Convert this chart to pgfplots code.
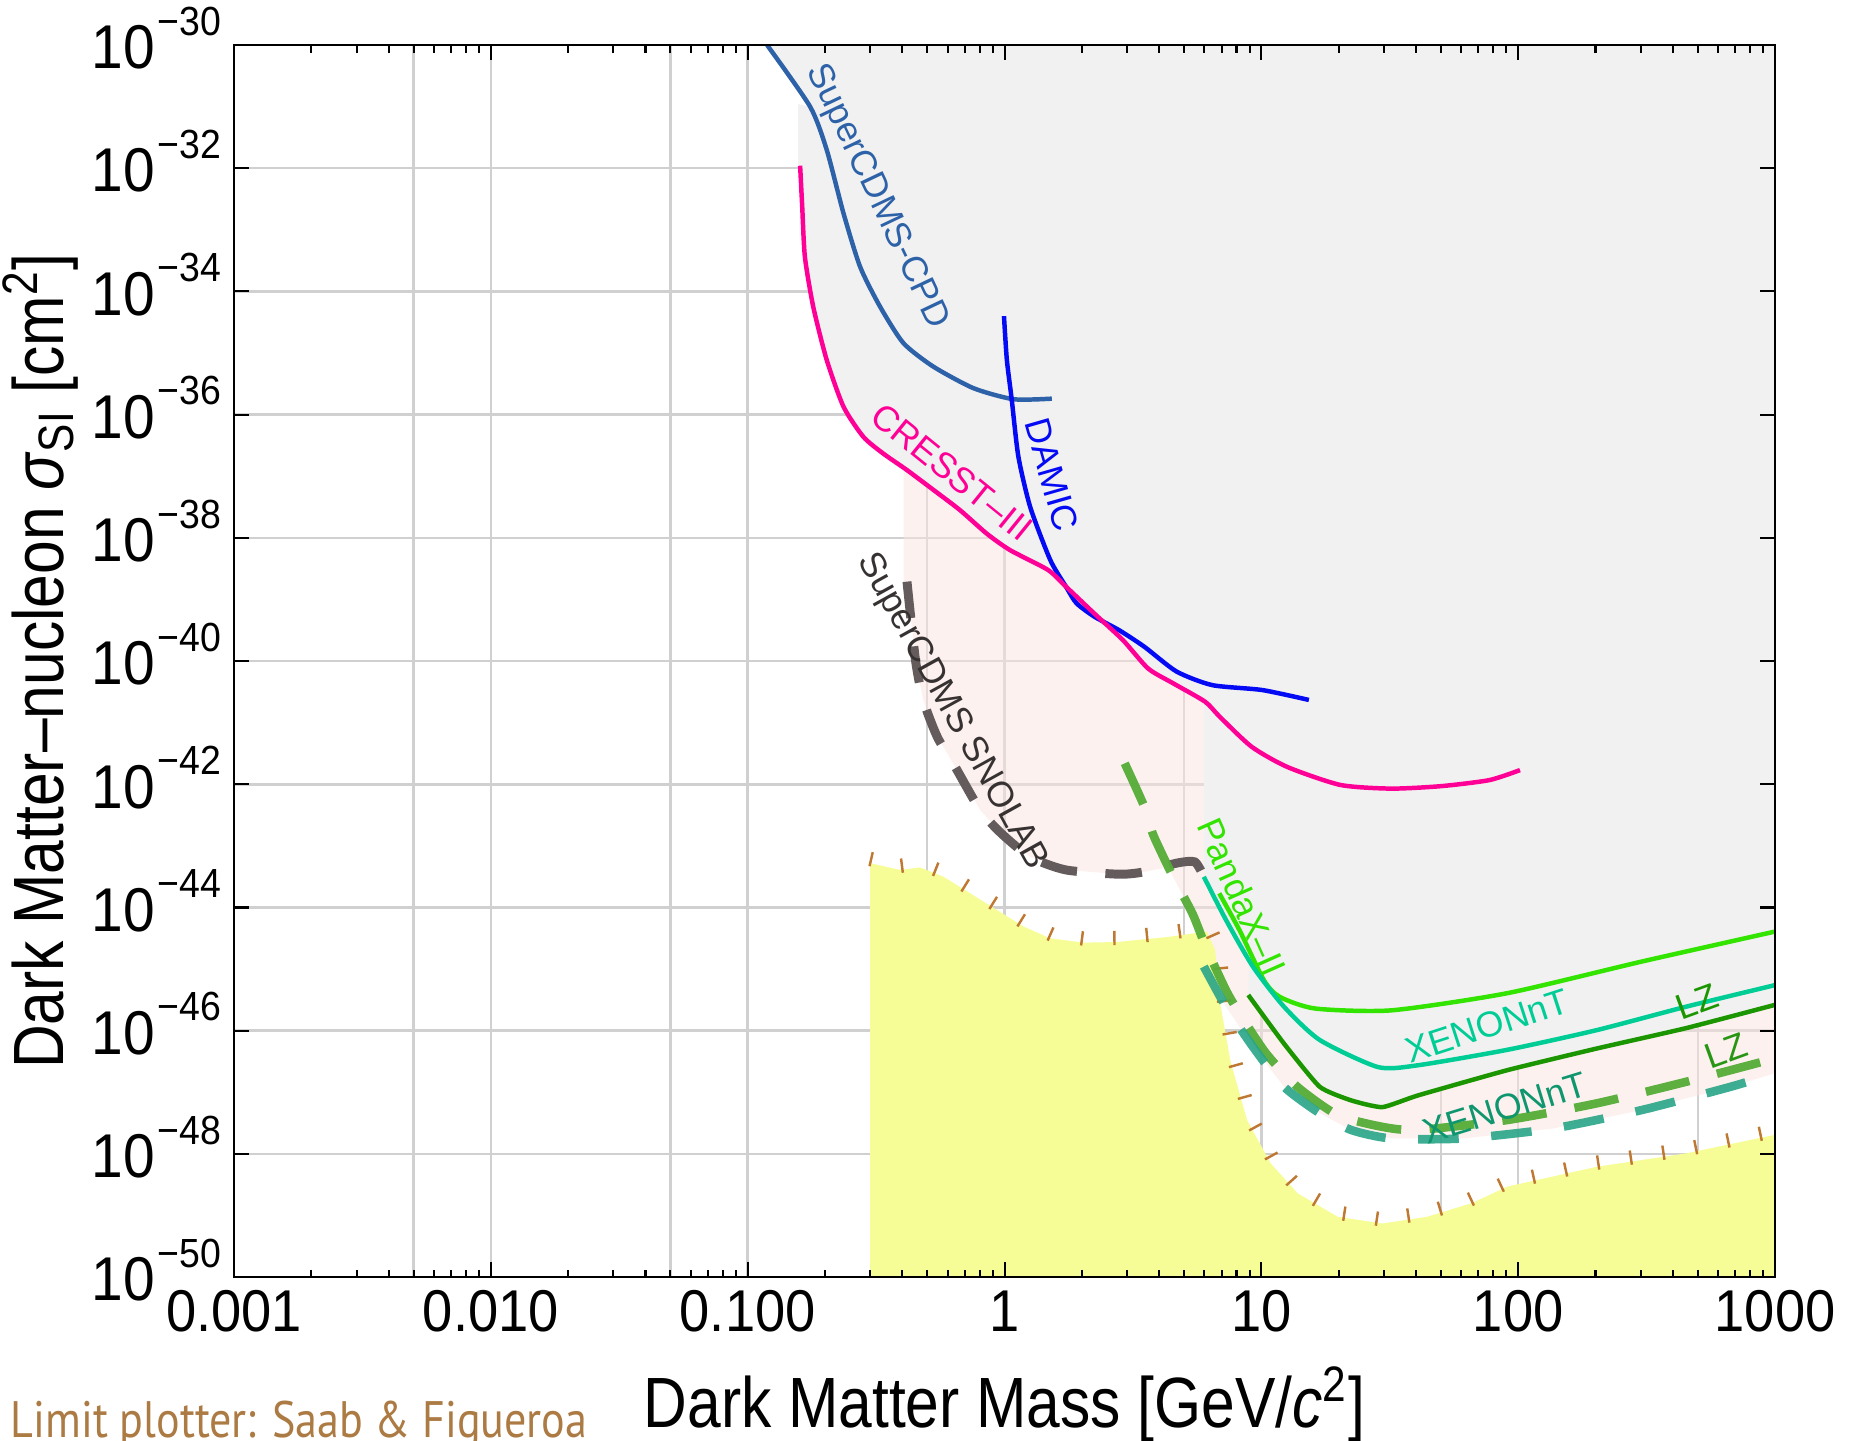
\documentclass[border=0pt]{standalone}
\usepackage{fontspec}
\setmainfont{Liberation Sans}[FakeStretch=0.92]
\newfontfamily\labfont{Liberation Sans}[FakeStretch=0.85]
\newfontfamily\curvefont{Liberation Sans}
\newfontfamily\creditfont{PT Sans}[FakeStretch=0.86]
\usepackage{pgfplots}
\pgfplotsset{compat=1.18}
\usetikzlibrary{decorations.pathreplacing}

\definecolor{cpd}{RGB}{45,98,168}
\definecolor{damic}{RGB}{5,10,245}
\definecolor{cresst}{RGB}{255,0,150}
\definecolor{snolab}{RGB}{100,92,92}
\definecolor{snolabtxt}{RGB}{55,50,50}
\definecolor{pandax}{RGB}{50,228,0}
\definecolor{xenon}{RGB}{0,205,150}
\definecolor{lz}{RGB}{28,150,0}
\definecolor{lzproj}{RGB}{85,172,55}
\definecolor{xenonproj}{RGB}{40,165,135}
\definecolor{xenonprojtxt}{RGB}{15,150,110}
\definecolor{lzprojtxt}{RGB}{40,150,20}
\definecolor{excl}{RGB}{241,241,241}
\definecolor{projfill}{RGB}{251,228,224}
\definecolor{nufloor}{RGB}{246,252,150}
\definecolor{nutick}{RGB}{190,120,50}
\definecolor{gridgray}{RGB}{208,208,208}
\definecolor{credit}{RGB}{172,123,68}

% exponent labels for the y axis
\newcommand{\tenexp}[1]{10\kern0.04em\raisebox{0.29cm}{\fontsize{10}{10}\selectfont −#1}}
\newcommand{\curvefnt}{\curvefont\fontsize{8.8}{10}\selectfont}

\begin{document}
\begin{tikzpicture}
% layer 1: grid, regions and curves
\begin{axis}[
  xmode=log, ymode=log,
  scale only axis, width=13.313cm, height=10.644cm,
  xmin=0.001, xmax=1000, ymin=1e-50, ymax=1e-30,
  at={(0,0)}, anchor=south west,
  xtick={0.001,0.01,0.1,1,10,100,1000},
  ytick={1e-50,1e-48,1e-46,1e-44,1e-42,1e-40,1e-38,1e-36,1e-34,1e-32,1e-30},
  extra x ticks={0.005,0.05,0.5,5,50,500},
  extra x tick labels={},
  xticklabels={}, yticklabels={},
  xminorticks=false, yminorticks=false,
  major tick length=0pt,
  grid=major, major grid style={gridgray, line width=0.6pt},
  axis line style={draw=none},
]
% projected sensitivity region
\addplot[fill=projfill, fill opacity=0.5, draw=none] coordinates {
  (0.405,1e-30) (0.405,1.95e-39) (0.417,1.95e-39) (0.431,5.25e-40) (0.452,9.12e-41)
  (0.482,2.34e-41) (0.547,5.89e-42) (0.643,1.91e-42) (0.804,3.80e-43) (0.973,1.585e-43)
  (1.259,6.61e-44) (1.734,4.07e-44) (2.799,3.47e-44) (3.508,3.80e-44) (4.35,4.5e-44)
  (4.529,3.16e-44) (5.395,7.94e-45) (5.97,2.6e-45) (5.97,1.10e-45) (7.278,2.45e-46)
  (9.268,5.50e-47) (12.25,1.23e-47) (16.87,4.57e-48) (22.34,2.45e-48) (32.06,1.78e-48)
  (60.81,1.78e-48) (135.5,2.57e-48) (301.3,5.13e-48) (671.4,1.23e-47) (1000,2.04e-47)
  (1000,1e-30)
};
% excluded region
\addplot[fill=excl, draw=none] coordinates {
  (0.119,1e-30) (0.175,1e-31) (0.157,1.1e-31) (0.157,1.10e-32) (0.160,1.10e-32)
  (0.163,2.40e-33) (0.167,3.63e-34) (0.180,5.62e-35) (0.203,7.76e-36) (0.236,1.35e-36)
  (0.282,4.37e-37) (0.337,2.34e-37) (0.417,1.26e-37) (0.528,6.03e-38) (0.671,2.82e-38)
  (0.853,1.17e-38) (1.052,6.31e-39) (1.476,3.02e-39) (1.734,1.62e-39) (2.239,5.89e-40)
  (2.891,2.19e-40) (3.622,7.59e-41) (4.529,4.37e-41) (5.97,2.3e-41) (5.97,3.16e-44)
  (7.278,6.31e-45) (8.892,1.48e-45) (8.892,3.80e-46) (12.25,6.17e-47) (16.87,1.23e-47)
  (22.34,7.41e-48) (29.58,5.75e-48) (40.74,8.91e-48) (90.78,2.29e-47) (201.8,5.13e-47)
  (449.8,1.10e-46) (1000,2.63e-46) (1000,1e-30)
};
% neutrino floor
\addplot[fill=nufloor, draw=none] coordinates {
  (0.300,1e-50) (0.300,5.25e-44) (0.392,4.07e-44) (0.469,4.47e-44) (0.578,3.16e-44)
  (0.735,1.70e-44) (0.933,9.12e-45) (1.186,4.90e-45) (1.507,3.16e-45) (2.028,2.69e-45)
  (2.735,2.75e-45) (4.285,3.31e-45) (6.138,4.07e-45) (6.607,2.04e-45) (6.918,2.75e-46)
  (7.568,3.31e-47) (8.790,3.55e-48) (10.86,7.08e-49) (13.84,2.29e-49) (19.82,9.55e-50)
  (29.58,7.41e-50) (44.16,9.55e-50) (65.92,1.585e-49) (90.78,2.95e-49) (201.8,6.17e-49)
  (449.8,1.02e-48) (1000,2.04e-48) (1000,1e-50)
};
\addplot[draw=none, postaction={decorate, draw=nutick, line width=0.6pt,
  decoration={ticks, segment length=0.285cm, amplitude=0.062cm, raise=0.035cm}}] coordinates {
  (0.300,5.25e-44) (0.392,4.07e-44) (0.469,4.47e-44) (0.578,3.16e-44)
  (0.735,1.70e-44) (0.933,9.12e-45) (1.186,4.90e-45) (1.507,3.16e-45) (2.028,2.69e-45)
  (2.735,2.75e-45) (4.285,3.31e-45) (6.138,4.07e-45) (6.607,2.04e-45) (6.918,2.75e-46)
  (7.568,3.31e-47) (8.790,3.55e-48) (10.86,7.08e-49) (13.84,2.29e-49) (19.82,9.55e-50)
  (29.58,7.41e-50) (44.16,9.55e-50) (65.92,1.585e-49) (90.78,2.95e-49) (201.8,6.17e-49)
  (449.8,1.02e-48) (1000,2.04e-48)
};

% projections (dashed)
\addplot[snolab, line width=2.2pt, dash pattern=on 9pt off 7pt, smooth, tension=0.4] coordinates {
  (0.417,1.95e-39) (0.431,5.25e-40) (0.452,9.12e-41) (0.482,2.34e-41) (0.547,5.89e-42)
  (0.643,1.91e-42) (0.804,3.80e-43) (0.973,1.585e-43) (1.259,6.61e-44) (1.734,4.07e-44)
  (2.799,3.47e-44) (3.508,3.80e-44) (4.677,5.25e-44) (5.508,5.50e-44) (5.970,3.16e-44)
};
\addplot[lzproj, line width=2.1pt, dash pattern=on 11pt off 7pt, opacity=0.95, smooth, tension=0.4] coordinates {
  (2.938,2.19e-42) (3.508,4.27e-43) (3.793,1.51e-43) (4.529,3.16e-44) (5.395,7.94e-45)
  (6.081,2.29e-45) (7.278,4.57e-46) (8.222,1.91e-46) (10.44,4.27e-47) (13.80,1.23e-47)
  (19.82,4.27e-48) (29.58,2.75e-48) (40.74,2.45e-48) (90.78,3.55e-48) (201.8,6.61e-48)
  (449.8,1.48e-47) (1000,3.55e-47)
};
\addplot[xenonproj, line width=2.1pt, dash pattern=on 10pt off 8pt, opacity=0.9, smooth, tension=0.4] coordinates {
  (5.970,1.10e-45) (7.278,2.45e-46) (9.268,5.50e-47) (12.25,1.23e-47) (16.87,4.57e-48)
  (22.34,2.45e-48) (32.06,1.78e-48) (60.81,1.78e-48) (135.5,2.57e-48) (301.3,5.13e-48)
  (671.4,1.23e-47) (1000,2.04e-47)
};

% current limits (solid)
\addplot[cpd, line width=1.1pt, smooth, tension=0.4] coordinates {
  (0.119,1e-30) (0.175,1e-31) (0.203,2.0e-32) (0.236,1.86e-33) (0.274,2.51e-34)
  (0.328,5.62e-35) (0.404,1.45e-35) (0.528,6.03e-36) (0.757,2.69e-36) (1.084,1.78e-36)
  (1.528,1.82e-36)
};
\addplot[damic, line width=1.1pt, smooth, tension=0.4] coordinates {
  (0.995,3.98e-35) (1.021,7.76e-36) (1.067,1.74e-36) (1.132,2.09e-37) (1.259,3.16e-38)
  (1.507,4.37e-39) (1.734,1.62e-39) (1.905,8.71e-40) (2.239,5.25e-40) (2.799,3.16e-40)
  (3.508,1.70e-40) (4.677,6.76e-41) (6.442,4.07e-41) (10.07,3.39e-41) (15.31,2.34e-41)
};
\addplot[cresst, line width=1.1pt, smooth, tension=0.4] coordinates {
  (0.160,1.10e-32) (0.163,2.40e-33) (0.167,3.63e-34) (0.180,5.62e-35) (0.203,7.76e-36)
  (0.236,1.35e-36) (0.282,4.37e-37) (0.337,2.34e-37) (0.417,1.26e-37) (0.528,6.03e-38)
  (0.671,2.82e-38) (0.853,1.17e-38) (1.052,6.31e-39) (1.476,3.02e-39) (1.734,1.62e-39)
  (2.239,5.89e-40) (2.891,2.19e-40) (3.622,7.59e-41) (4.529,4.37e-41) (6.039,2.19e-41)
  (6.871,1.26e-41) (9.162,4.07e-42) (12.62,1.91e-42) (20.28,9.77e-43) (31.99,8.51e-43)
  (50.1,9.33e-43) (77.27,1.17e-42) (101.6,1.70e-42)
};
\addplot[pandax, line width=1.1pt, smooth, tension=0.4] coordinates {
  (6.855,1.70e-44) (8.222,4.27e-45) (10.23,6.61e-46) (11.78,3.55e-46) (16.22,2.29e-46)
  (32.06,2.14e-46) (90.78,4.07e-46) (301.3,1.32e-45) (1000,4.07e-45)
};
\addplot[xenon, line width=1.1pt, smooth, tension=0.4] coordinates {
  (5.970,3.16e-44) (7.278,6.31e-45) (9.268,1.10e-45) (12.25,2.45e-46) (16.87,7.08e-47)
  (28.44,2.57e-47) (40.74,2.75e-47) (90.78,4.90e-47) (201.8,1.02e-46) (449.8,2.45e-46)
  (1000,5.50e-46)
};
\addplot[lz, line width=1.1pt, smooth, tension=0.3] coordinates {
  (8.892,3.80e-46) (12.25,6.17e-47) (16.87,1.23e-47) (22.34,7.41e-48) (29.58,5.75e-48)
  (40.74,8.91e-48) (90.78,2.29e-47) (201.8,5.13e-47) (449.8,1.10e-46) (1000,2.63e-46)
};

% curve labels
\node[inner sep=0pt, font=\curvefnt, text=cpd, rotate=-64.6] at (axis cs:0.318,3.47e-33) {SuperCDMS-CPD};
\node[inner sep=0pt, font=\curvefnt, text=damic, rotate=-74] at (axis cs:1.53,1.05e-37) {DAMIC};
\node[inner sep=0pt, font=\curvefnt, text=cresst, rotate=-39] at (axis cs:0.624,1.17e-37) {CRESST–III};
\node[inner sep=0pt, font=\curvefnt, text=snolabtxt, rotate=-61] at (axis cs:0.622,1.51e-41) {SuperCDMS SNOLAB};
\node[inner sep=0pt, font=\curvefnt, text=pandax, rotate=-66] at (axis cs:8.39,1.48e-44) {PandaX–II};
\node[inner sep=0pt, font=\curvefnt, text=xenon, rotate=18] at (axis cs:75.7,1.20e-46) {XENONnT};
\node[inner sep=0pt, font=\curvefnt, text=lz, rotate=20] at (axis cs:497,2.95e-46) {LZ};
\node[inner sep=0pt, font=\curvefnt, text=xenonprojtxt, rotate=17] at (axis cs:88.9,5.62e-48) {XENONnT};
\node[inner sep=0pt, font=\curvefnt, text=lzprojtxt, rotate=20] at (axis cs:645,4.68e-47) {LZ};
\end{axis}

% layer 2: frame, ticks and labels on top
\begin{axis}[
  name=main, clip=false,
  xmode=log, ymode=log,
  scale only axis, width=13.313cm, height=10.644cm,
  xmin=0.001, xmax=1000, ymin=1e-50, ymax=1e-30,
  at={(0,0)}, anchor=south west,
  xtick={0.001,0.01,0.1,1,10,100,1000},
  xticklabels={0.001,0.010,0.100,1,10,100,1000},
  minor xtick={0.002,0.003,0.004,0.005,0.006,0.007,0.008,0.009,
    0.02,0.03,0.04,0.05,0.06,0.07,0.08,0.09,
    0.2,0.3,0.4,0.5,0.6,0.7,0.8,0.9,
    2,3,4,5,6,7,8,9,20,30,40,50,60,70,80,90,
    200,300,400,500,600,700,800,900},
  ytick={1e-50,1e-48,1e-46,1e-44,1e-42,1e-40,1e-38,1e-36,1e-34,1e-32,1e-30},
  yticklabels={\tenexp{50},\tenexp{48},\tenexp{46},\tenexp{44},\tenexp{42},\tenexp{40},
    \tenexp{38},\tenexp{36},\tenexp{34},\tenexp{32},\tenexp{30}},
  yminorticks=false,
  major tick length=0.13cm, minor tick length=0.065cm,
  tick style={black, line width=0.5pt},
  axis line style={black, line width=0.6pt},
  tick label style={font=\fontsize{14.5}{16}\selectfont},
  xticklabel style={anchor=base, yshift=-0.473cm},
  yticklabel style={anchor=base east, inner sep=0pt, xshift=-0.104cm, yshift=-0.205cm,
    font=\fontsize{15.2}{16}\selectfont},
  xlabel={Dark Matter Mass [GeV/\textit{c}\textsuperscript{2}]},
  ylabel={Dark Matter–nucleon \textit{σ}\textsubscript{SI} [cm\textsuperscript{2}]},
  xlabel style={at={(axis description cs:0.5,-0.1218)}, anchor=base, inner sep=0pt,
    font=\labfont\fontsize{17.5}{20}\selectfont},
  ylabel style={at={(axis description cs:-0.1505,0.5)}, anchor=north, inner sep=0pt,
    font=\labfont\fontsize{17.5}{20}\selectfont},
]
\addplot[draw=none] coordinates {(1,1e-40)};
\node[anchor=base west, inner sep=0pt, text=credit, font=\creditfont\fontsize{12.6}{14}\selectfont]
  at (axis description cs:-0.1454,-0.1299) {Limit plotter: Saab \& Figueroa};
\end{axis}
\pgfresetboundingbox
\path[use as bounding box] ([shift={(-2.022cm,-1.408cm)}]main.south west)
  rectangle ([shift={(0.665cm,0.389cm)}]main.north east);
\end{tikzpicture}
\end{document}
